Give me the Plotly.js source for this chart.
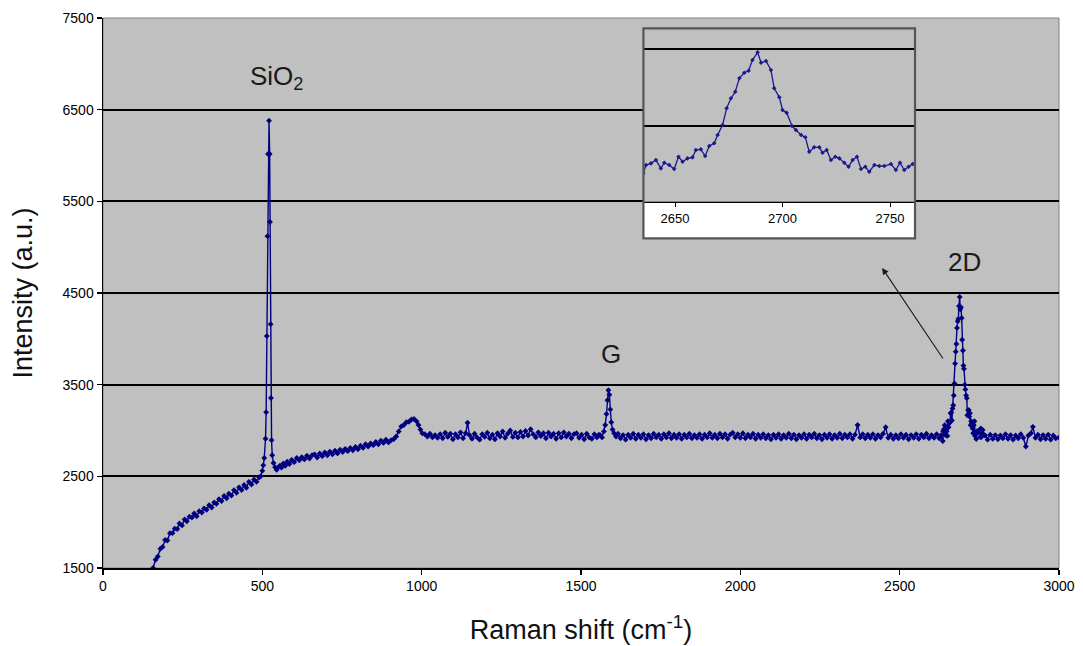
<!DOCTYPE html>
<html>
<head>
<meta charset="utf-8">
<script src="https://cdn.plot.ly/plotly-3.0.1.min.js"></script>
<style>
html,body{margin:0;padding:0;background:#fff;}
#chart{width:1083px;height:646px;}
</style>
</head>
<body>
<div id="chart"></div>
<script>
// Raman shift (cm-1) and intensity (a.u.)
const ramanShift = [
157,165,172,180,187,195,202,210,218,225,233,240,248,256,263,271,279,286,294,302,
310,317,325,333,341,349,356,364,372,380,388,395,403,411,419,427,435,443,450,458,
466,474,482,490,495,500,503,506,510,512,514,516,518,521,523,524,526,527,529,531,
535,540,545,550,555,560,566,572,578,585,592,600,608,616,624,632,640,648,656,664,
672,680,688,696,704,712,720,728,736,744,752,760,768,776,784,792,800,808,816,824,
832,840,848,856,864,872,880,888,896,904,912,920,928,936,944,952,960,968,976,984,
990,996,1002,1010,1018,1026,1034,1042,1050,
1058,1066,1074,1082,1090,1098,1106,1114,1122,1130,1138,1144,1150,1158,1166,1174,1182,1190,1198,1206,
1214,1222,1230,1238,1246,1254,1262,1270,1278,1286,1294,1302,1310,1318,1326,1334,1342,1350,1358,1366,
1374,1382,1390,1398,1406,1414,1422,1430,1438,1446,1454,1462,1470,1478,1486,1494,1502,1510,1518,1526,
1534,1542,1550,1556,
1560,1566,1572,1576,1580,1583,1586,1589,1592,1595,1599,1604,1610,
1616,1624,1632,1640,1648,1656,1664,1672,1680,1688,1696,1704,1712,1720,1728,1736,1744,1752,1760,1768,
1776,1784,1792,1800,1808,1816,1824,1832,1840,1848,1856,1864,1872,1880,1888,1896,1904,1912,1920,1928,
1936,1944,1952,1960,1968,1976,1984,1992,2000,2008,2016,2024,2032,2040,2048,2056,2064,2072,2080,2088,
2096,2104,2112,2120,2128,2136,2144,2152,2160,2168,2176,2184,2192,2200,2208,2216,2224,2232,2240,2248,
2256,2264,2272,2280,2288,2296,2304,2312,2320,2328,2336,2344,2352,2360,2368,2376,2384,2392,2400,2408,
2416,2424,2432,2440,2448,2456,2464,2472,2480,2488,2496,2504,2512,2520,2528,2536,2544,2552,2560,2568,
2576,2584,2592,2600,2608,2616,2624,2630,
2635.2,2636.5,2638.8,2641.1,2643.4,2645.0,2647.3,2649.6,2651.6,2653.5,2655.8,2658.1,2659.7,2662.0,2664.0,
2665.9,2668.2,2669.8,2672.1,2674.0,2676.0,2678.0,2679.9,2682.2,2684.2,2686.0,2688.4,2690.0,2692.3,2694.6,
2696.1,2698.5,2700.0,2701.9,2704.4,2706.2,2708.6,2710.6,2712.4,2714.7,2717.1,2718.6,2720.5,2722.5,2724.5,
2726.4,2728.7,2730.7,2732.6,2734.6,2736.5,2738.5,2740.3,2742.7,2745.0,2747.3,2750.4,2752.7,2754.6,2756.6,
2758.6,2760.5,
2768,2776,2784,2792,2800,2808,2816,2824,2832,2840,2848,2856,2864,2872,2880,2888,2896,2904,2912,2918,
2926,2934,2942,2950,2958,2966,2974,2982,2990,3000
];
const intensity = [
1500,1590,1625,1710,1730,1805,1800,1880,1880,1930,1925,1985,1965,2030,2010,2060,2050,2095,2065,2120,
2105,2150,2135,2185,2160,2215,2200,2250,2230,2285,2260,2310,2290,2350,2320,2380,2350,2405,2375,2440,
2410,2465,2440,2490,2500,2560,2620,2700,2910,3200,4030,5120,6016,6380,6016,5275,4160,3355,2895,2730,
2645,2600,2570,2600,2615,2595,2640,2615,2660,2635,2680,2655,2700,2675,2710,2685,2725,2695,2730,2740,
2705,2750,2720,2760,2730,2770,2740,2780,2750,2790,2765,2800,2775,2810,2785,2820,2795,2835,2810,2850,
2825,2860,2840,2875,2850,2890,2865,2900,2870,2895,2905,2935,2990,3045,3060,3090,3095,3120,3125,3100,
3060,3010,2970,2960,2935,2965,2925,2950,2920,
2960,2915,2975,2930,2965,2905,2960,2925,2980,2915,2970,3085,2950,2910,2965,2925,2900,2960,2930,2975,
2915,2955,2905,2970,2935,2990,2920,2965,3000,2930,2975,2925,2985,2935,2995,2945,3015,2960,2925,2980,
2940,2970,2915,2975,2935,2965,2910,2970,2925,2980,2935,2965,2915,2960,2970,2920,2955,2905,2965,2925,
2910,2960,2925,2955,
2950,2925,2990,3060,3180,3330,3440,3390,3230,3090,3010,2970,2935,
2965,2915,2950,2900,2955,2920,2965,2910,2955,2920,2960,2905,2950,2915,2965,2925,2955,2910,2960,2925,
2970,2915,2955,2920,2960,2910,2955,2925,2965,2915,2950,2920,2960,2910,2955,2925,2970,2920,2955,2915,
2965,2925,2960,2910,2955,2975,2925,2960,2920,2970,2915,2955,2925,2965,2910,2955,2920,2960,2915,2950,
2905,2955,2920,2960,2910,2950,2920,2965,2915,2955,2905,2950,2920,2960,2910,2955,2925,2965,2915,2950,
2905,2955,2920,2960,2910,2950,2920,2965,2915,2955,2925,2960,2910,2955,3060,2925,2960,2915,2955,2920,
2960,2910,2950,2925,2965,3035,2920,2955,2910,2950,2915,2960,2920,2955,2905,2950,2920,2960,2910,2955,
2925,2965,2915,2950,2920,2960,2915,2950,
2885,2993,3015,3058,2950,3023,2993,2941,3101,3036,3080,3093,3188,3197,3110,
3240,3275,3383,3513,3730,3860,3945,4119,4192,4218,4357,4457,4322,4344,4227,
3990,3873,3708,3673,3500,3448,3383,3353,3166,3223,3223,3153,3188,3058,3101,
3080,3023,2971,3058,3101,2941,2971,2906,2993,2980,2980,3006,2928,3023,2928,
2971,3006,
2945,2900,2955,2910,2950,2905,2945,2915,2960,2910,2950,2900,2945,2915,2960,2920,2825,2945,2970,3040,
2920,2955,2905,2950,2910,2955,2900,2945,2915,2925
];
const xTickVals = [0,500,1000,1500,2000,2500,3000];
const insetTickVals = [2650,2700,2750];
const peakLabels = ['SiO<sub>2</sub>','G','2D'];
const peakLabelX = [544,1595,2705];
const peakLabelY = [6856,3835,4838];

const FONT = 'Liberation Sans, Arial, sans-serif';
const navy = '#000080';

const mainTrace = {
  x: ramanShift, y: intensity, type: 'scatter', mode: 'lines+markers',
  line: {color: navy, width: 1.4},
  marker: {color: navy, size: 4.5, symbol: 'diamond'},
  xaxis: 'x', yaxis: 'y', cliponaxis: true, hoverinfo: 'skip'
};
const insetTrace = {
  x: ramanShift, y: intensity, type: 'scatter', mode: 'lines+markers',
  line: {color: '#1a1a8c', width: 1.3},
  marker: {color: '#1a1a8c', size: 3.5, symbol: 'diamond'},
  xaxis: 'x2', yaxis: 'y2', cliponaxis: true, hoverinfo: 'skip'
};

const ix0 = 0.5653, ix1 = 0.8494, iy0 = 0.666, iy1 = 0.9813, ibox0 = 0.5995;

const annotations = peakLabels.map((t,i)=>({
  x: peakLabelX[i], y: peakLabelY[i], xref:'x', yref:'y', text: t, showarrow:false,
  font:{family:FONT, size:26, color:'#1a1a1a'}, xanchor:'center', yanchor:'middle'
}));
annotations.push({
  x: 2445, y: 4773, ax: 2639, ay: 3769, xref:'x', yref:'y', axref:'x', ayref:'y',
  text:'', showarrow:true, arrowhead:2, arrowsize:1.2, arrowwidth:1.1, arrowcolor:'#1a1a1a'
});

const layout = {
  width: 1083, height: 646,
  margin: {l: 102.7, r: 24, t: 18, b: 78},
  paper_bgcolor: '#ffffff', plot_bgcolor: '#c0c0c0',
  showlegend: false,
  font: {family: FONT, color: '#000'},
  xaxis: {
    range: [0, 3000], tickvals: xTickVals, showgrid: false, zeroline: false,
    showline: true, linecolor: '#000', linewidth: 1.5,
    ticks: 'outside', ticklen: 5, tickcolor: '#000', tickwidth: 1.5,
    tickfont: {family: FONT, size: 14, color: '#000'},
    title: {text: 'Raman shift (cm<sup>-1</sup>)', font: {family: FONT, size: 27, color: '#111'}, standoff: 27},
    domain: [0, 1], anchor: 'y'
  },
  yaxis: {
    range: [1500, 7500], tick0: 1500, dtick: 1000, showgrid: true, gridcolor: '#000', gridwidth: 2,
    zeroline: false, showline: true, linecolor: '#000', linewidth: 1.5,
    ticks: 'outside', ticklen: 5, tickcolor: '#000', tickwidth: 1.5,
    tickfont: {family: FONT, size: 14, color: '#000'},
    title: {text: 'Intensity (a.u.)', font: {family: FONT, size: 27, color: '#111'}, standoff: 22},
    domain: [0, 1], anchor: 'x'
  },
  xaxis2: {
    domain: [ix0, ix1], anchor: 'y2', range: [2635.3, 2761.6], tickvals: insetTickVals,
    showgrid: false, zeroline: false, showline: true, linecolor: '#000', linewidth: 1.5,
    ticks: 'outside', ticklen: 4, tickcolor: '#000',
    tickfont: {family: FONT, size: 13, color: '#000'}
  },
  yaxis2: {
    domain: [iy0, iy1], anchor: 'x2', range: [2517, 4769], tick0: 2500, dtick: 1000,
    showgrid: true, gridcolor: '#000', gridwidth: 2, zeroline: false,
    showline: false, showticklabels: false, ticks: ''
  },
  shapes: [
    {type:'rect', xref:'paper', yref:'paper', x0:0, x1:1, y0:0, y1:1,
     line:{color:'#808080', width:1}, fillcolor:'rgba(0,0,0,0)', layer:'below'},
    {type:'rect', xref:'paper', yref:'paper', x0:ix0, x1:ix1, y0:ibox0, y1:iy0,
     line:{width:0}, fillcolor:'#ffffff', layer:'below'},
    {type:'rect', xref:'paper', yref:'paper', x0:ix0, x1:ix1, y0:ibox0, y1:iy1,
     line:{color:'#555555', width:2.2}, fillcolor:'rgba(0,0,0,0)', layer:'above'}
  ],
  annotations: annotations
};

Plotly.newPlot('chart', [mainTrace, insetTrace], layout, {displayModeBar: false, staticPlot: true});
</script>
</body>
</html>
